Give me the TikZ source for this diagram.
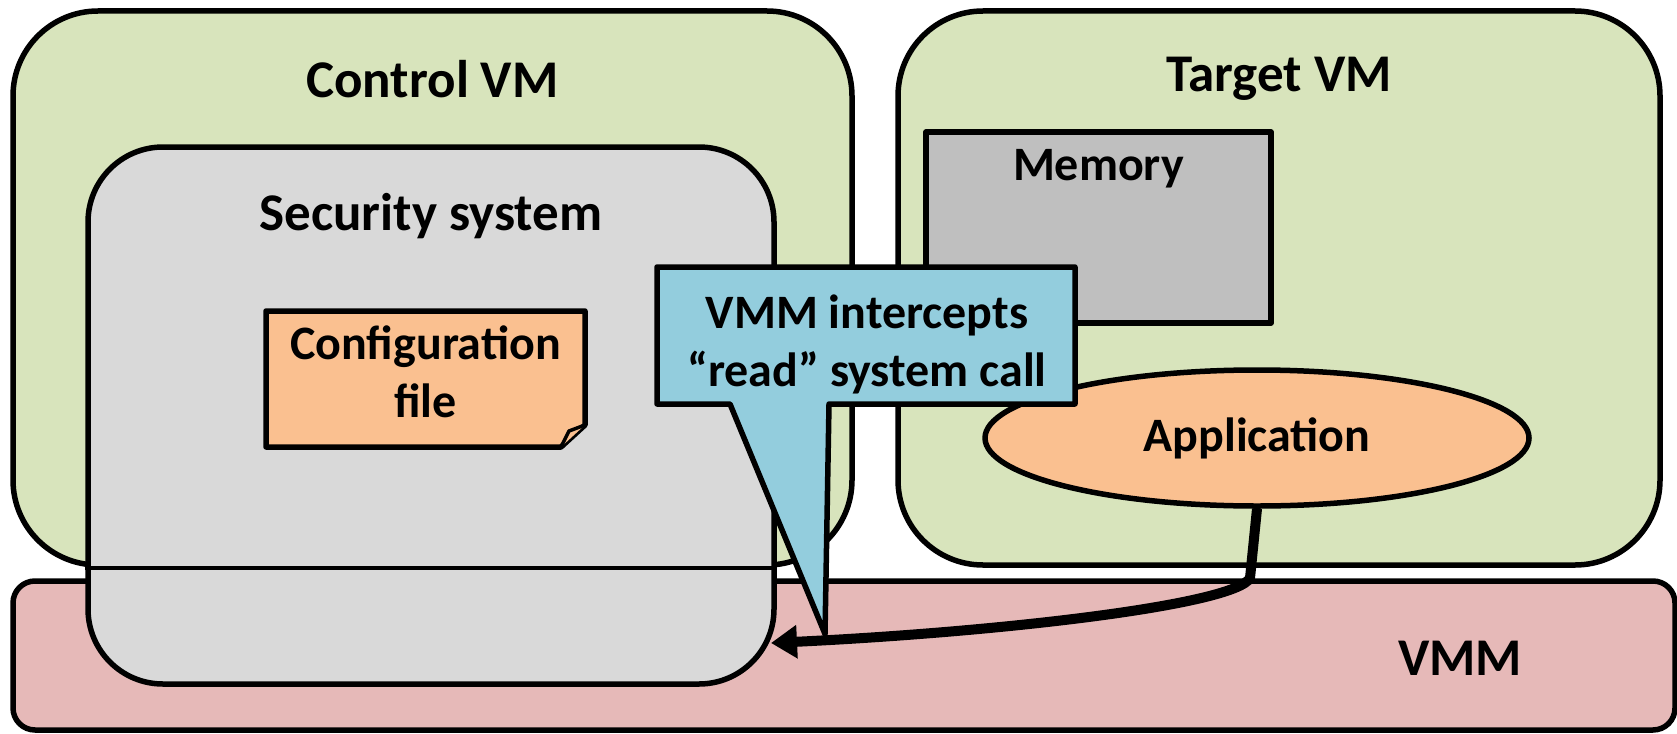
\documentclass[tikz,border=0pt]{standalone}
\usepackage{fontspec}
\setmainfont{Carlito}
\usetikzlibrary{shapes.geometric, positioning, calc, arrows.meta}
\definecolor{vmgreen}{HTML}{D8E4BC}
\definecolor{secgray}{HTML}{D9D9D9}
\definecolor{memgray}{HTML}{BFBFBF}
\definecolor{apporange}{HTML}{FAC090}
\definecolor{vmmpink}{HTML}{E6B9B8}
\definecolor{callblue}{HTML}{93CDDD}

\begin{document}
\begin{tikzpicture}[x=1pt, y=-1pt,
    labeltext/.style={font=\fontsize{48}{58}\selectfont\bfseries,
      align=center, inner sep=0pt},
    titletext/.style={labeltext, font=\fontsize{53}{64}\selectfont\bfseries},
    outline/.style={draw, line width=5.5pt, line join=round},
    vmbox/.style={outline, rectangle, rounded corners=85pt,
      fill=vmgreen, minimum width=#1, minimum height=554pt},
    callarrow/.style={line width=10pt, -{Triangle[length=26pt, width=32pt]}}]
  \useasboundingbox (0,0) rectangle (1677,733);

% VIRTUAL MACHINES

  \node [vmbox=839pt] (controlvm) at (432.5,288) {};
  \node [titletext] (controltitle) at ([yshift=-71pt]controlvm.north) {Control VM};

  \node [vmbox=762pt] (targetvm) at (1279,288) {};
  \node [titletext] (targettitle) at ([yshift=-71pt]targetvm.north) {Target VM};

  \node [outline, rectangle, rounded corners=22pt, fill=vmmpink,
    minimum width=1662pt, minimum height=149pt] (vmm) at (844,655.5) {};
  \node [titletext] (vmmtitle) at (1460,658) {VMM};

% SECURITY SYSTEM

  \node [outline, rectangle, rounded corners=75pt, fill=secgray,
    minimum width=686pt, minimum height=537pt] (secsys) at (431,415.5) {};
  \node [titletext] (sectitle) at ([yshift=-72pt]secsys.north) {Security system};
  \draw [line width=3.5pt] (secsys.west |- controlvm.south)
    -- (secsys.east |- controlvm.south);

  \coordinate (cfgnw) at (266,311);
  \coordinate (cfgse) at (585,447);
  \filldraw [outline, fill=apporange] (cfgnw) -- (cfgnw -| cfgse)
    -- ([yshift=22pt]cfgse) -- ([xshift=-24pt]cfgse)
    -- (cfgnw |- cfgse) -- cycle;
  \filldraw [line width=3.5pt, line join=round, fill=apporange]
    ([yshift=22pt]cfgse) -- ([xshift=-16pt, yshift=16pt]cfgse)
    -- ([xshift=-24pt]cfgse);
  \node [labeltext] (config) at (425.5,372) {Configuration\\file};

% TARGET VM CONTENTS

  \node [outline, rectangle, fill=memgray,
    minimum width=345pt, minimum height=191pt] (memory) at (1098.5,227.5) {};
  \node [labeltext] (memtitle) at ([yshift=-39pt]memory.north) {Memory};

  \node [outline, ellipse, fill=apporange, inner sep=0pt,
    minimum width=544pt, minimum height=136pt] (app) at (1257,438) {};
  \node [labeltext] (apptitle) at (app.center) {Application};

% SYSTEM CALL

  \coordinate (readhit) at (771,643);
  \draw [callarrow] (app.south) -- (1250,578)
    .. controls (1235,605) and (1000,632) .. (readhit);

  \coordinate (callnw) at (657,267);
  \coordinate (callse) at (1075,404);
  \coordinate (calltip) at (825,634);
  \filldraw [outline, fill=callblue] (callnw) -- (callnw -| callse)
    -- (callse) -- ([xshift=-246pt]callse) -- (calltip)
    -- ([xshift=73pt]callnw |- callse) -- (callnw |- callse) -- cycle;
  \node [labeltext] (intercept) at (867,344) {VMM intercepts\\“read” system call};

\end{tikzpicture}
\end{document}
